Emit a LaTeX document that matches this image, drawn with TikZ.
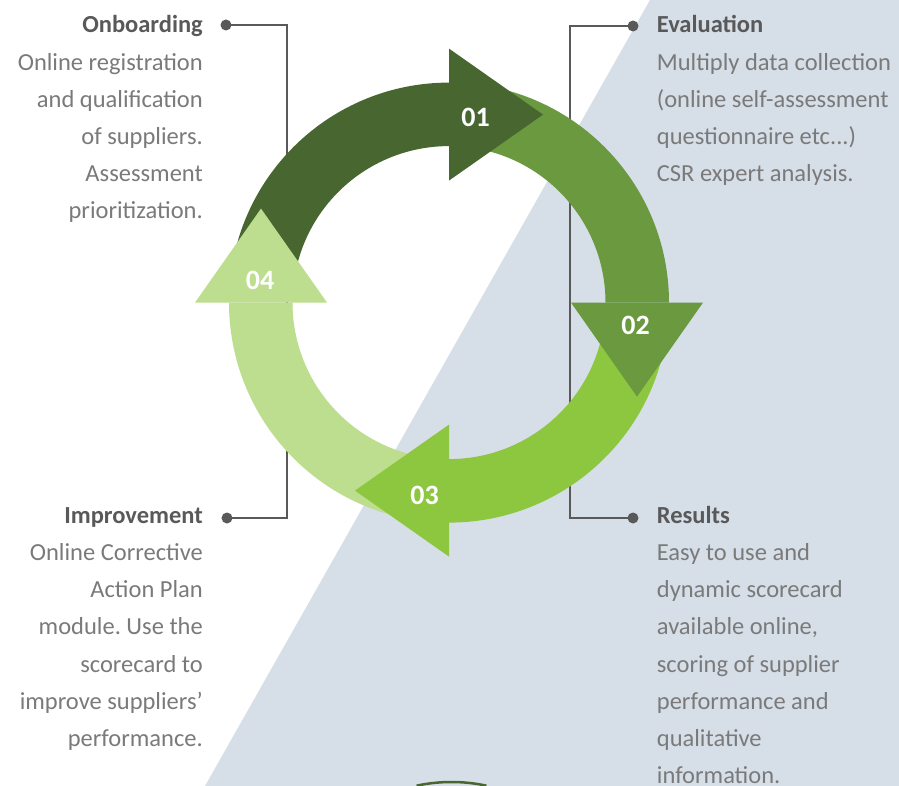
\documentclass[tikz,border=0pt]{standalone}
\usepackage{fontspec}
\setmainfont{Carlito}
\usetikzlibrary{calc}
\frenchspacing
\definecolor{bgband}{RGB}{214,222,231}
\definecolor{gA}{RGB}{72,103,48}
\definecolor{gB}{RGB}{106,153,64}
\definecolor{gC}{RGB}{141,198,63}
\definecolor{gD}{RGB}{189,221,143}
\definecolor{ttl}{RGB}{89,89,89}
\definecolor{bodytxt}{RGB}{122,122,122}
\definecolor{conncol}{RGB}{89,89,89}
\begin{document}
\begin{tikzpicture}[x=1pt,y=1pt,
  conn/.style={draw=conncol,line width=2pt},
  dotnode/.style={circle,fill=conncol,inner sep=0pt,minimum size=11pt},
  txtblock/.style={inner sep=0pt,text=bodytxt,font=\fontsize{24.5}{37.2}\selectfont\frenchspacing},
  lefttext/.style={txtblock,anchor=base east,align=right},
  righttext/.style={txtblock,anchor=base west,align=left},
  num/.style={text=white,font=\bfseries\fontsize{28}{30}\selectfont,inner sep=0pt}
]
\useasboundingbox (0,0) rectangle (899,-786);
\fill[white] (0,0) rectangle (899,-786);
\fill[bgband] (650,0) -- (899,0) -- (899,-786) -- (205,-786) -- cycle;

% connectors
\node[dotnode] (onbdot) at (226,-25) {};
\node[dotnode] (impdot) at (227,-518) {};
\node[dotnode] (evadot) at (633,-26) {};
\node[dotnode] (resdot) at (633,-518) {};
\coordinate (lt) at (286.5,-25);
\coordinate (lb) at (286.5,-518);
\coordinate (rt) at (569.5,-26);
\coordinate (rb) at (569.5,-518);
\draw[conn] (onbdot.center) -- (lt) -- (lb) -- (impdot.center);
\draw[conn] (evadot.center) -- (rt) -- (rb) -- (resdot.center);

% ring
\coordinate (C) at (449,-302.6);
\foreach \k/\col in {0/gA,1/gB,2/gC,3/gD}{
  \pgfmathsetmacro\b{90-90*\k}
  \fill[\col] ($(C)+(\b+80:220)$) arc[start angle=\b+80,end angle=\b,radius=220]
     -- ($(C)+(\b:156.5)$) arc[start angle=\b,end angle=\b+80,radius=156.5] -- cycle;
}
\foreach \k/\col in {0/gA,1/gB,2/gC,3/gD}{
  \pgfmathsetmacro\b{90-90*\k}
  \fill[\col] ($(C)+(\b:122)$) -- ($(C)+(\b:254)$) -- ($(C)+(\b:188)+(\b-90:94)$) -- cycle;
}
\node[num] (n1) at (475.5,-117) {01};
\node[num] (n2) at (635.5,-325) {02};
\node[num] (n3) at (424.5,-495) {03};
\node[num] (n4) at (260,-280.5) {04};

% partial arc at bottom
\coordinate (arcC) at (451.5,-950);
\draw[gA,line width=2.5pt] ($(arcC)+(78:168)$) arc[start angle=78,end angle=102,radius=168];

% texts (anchored at the baseline of their last line)
\node[lefttext] (onb) at (203,-219) {{\color{ttl}\bfseries Onboarding}\\Online registration\\and qualification\\of suppliers.\\Assessment\\prioritization.};
\node[lefttext] (imp) at (203,-746.5) {{\color{ttl}\bfseries Improvement}\\Online Corrective\\Action Plan\\module. Use the\\scorecard to\\improve suppliers’\\performance.};
\node[righttext] (eva) at (656.7,-181.8) {{\color{ttl}\bfseries Evaluation}\\Multiply data collection\\(online self-assessment\\questionnaire etc...)\\CSR expert analysis.};
\node[righttext] (res) at (656.7,-783.7) {{\color{ttl}\bfseries Results}\\Easy to use and\\dynamic scorecard\\available online,\\scoring of supplier\\performance and\\qualitative\\information.};
\end{tikzpicture}
\end{document}
